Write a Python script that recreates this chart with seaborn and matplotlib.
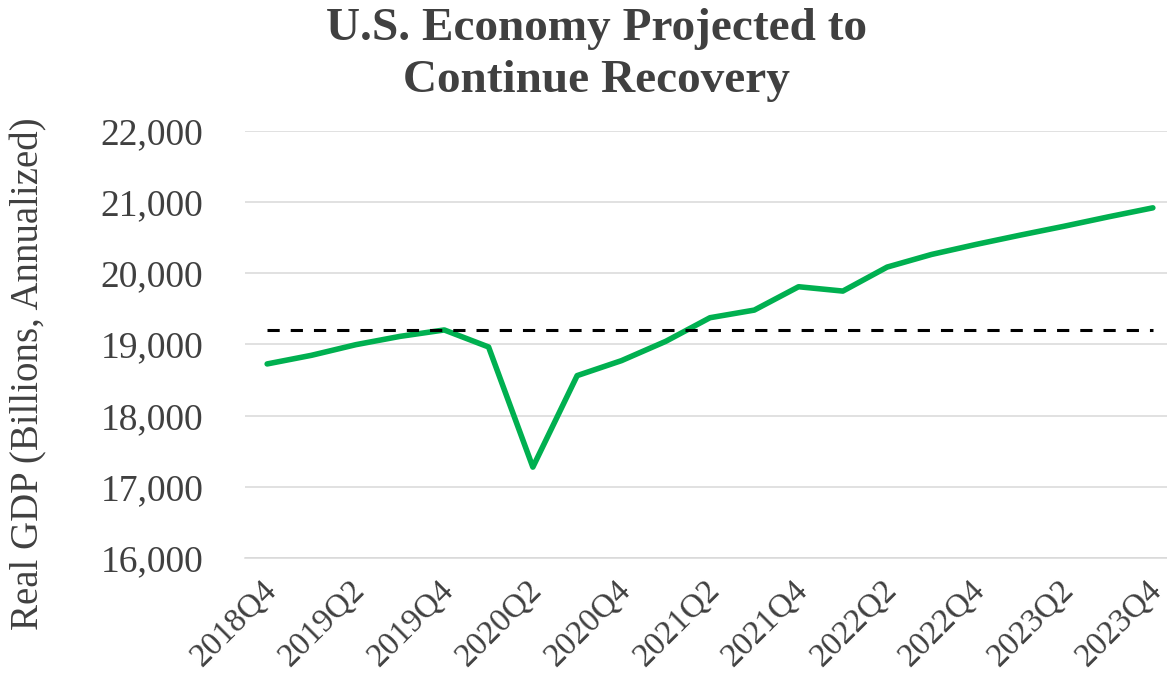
import numpy as np
import pandas as pd
import seaborn as sns
import matplotlib.pyplot as plt
import matplotlib.ticker as mticker
import matplotlib.transforms as mtransforms

quarters = ['2018Q4',
            '2019Q1', '2019Q2', '2019Q3', '2019Q4',
            '2020Q1', '2020Q2', '2020Q3', '2020Q4',
            '2021Q1', '2021Q2', '2021Q3', '2021Q4',
            '2022Q1', '2022Q2', '2022Q3', '2022Q4',
            '2023Q1', '2023Q2', '2023Q3', '2023Q4']
real_gdp = [18725, 18846, 18995, 19112, 19202,
            18963, 17276, 18561, 18771,
            19042, 19374, 19481, 19809,
            19748, 20085, 20262, 20402,
            20533, 20659, 20791, 20917]
# pre-pandemic peak (2019Q4) reference line
pre_covid_peak = [19202, 19202, 19202, 19202, 19202,
                  19202, 19202, 19202, 19202,
                  19202, 19202, 19202, 19202,
                  19202, 19202, 19202, 19202,
                  19202, 19202, 19202, 19202]
y_ticks = [16000, 17000, 18000, 19000, 20000, 21000, 22000]

sns.set_style("white")
plt.rcParams['font.family'] = ['Liberation Serif', 'DejaVu Serif']

text_col = '#404040'
grid_col = '#d9d9d9'

df = pd.DataFrame({'quarter': quarters, 'gdp': real_gdp, 'peak': pre_covid_peak})

fig = plt.figure(figsize=(11.67, 6.73), dpi=100)
ax = fig.add_axes([245 / 1167, 1 - 558 / 673, 930 / 1167, 427.3 / 673])

sns.lineplot(data=df, x='quarter', y='gdp', color='#00B050', linewidth=4,
             sort=False, ax=ax)
sns.lineplot(data=df, x='quarter', y='peak', color='black', linewidth=2.2,
             linestyle=(0, (4, 3.6)), sort=False, ax=ax)

ax.set_xlim(-0.5, len(quarters) - 0.5)
ax.set_ylim(16000, 22000)
ax.set_yticks(y_ticks)
ax.yaxis.set_major_formatter(mticker.StrMethodFormatter('{x:,.0f}'))

# labels on every other quarter, tick marks between categories
ax.set_xticks(range(0, len(quarters), 2))
ax.set_xticklabels(quarters[::2], rotation=45, ha='right', va='top',
                   rotation_mode='anchor')
ax.set_xticks(np.arange(-0.5, len(quarters), 1), minor=True)
ax.tick_params(axis='x', which='major', length=0, pad=12, labelsize=24,
               labelcolor=text_col)
ax.tick_params(axis='x', which='minor', length=7.2, width=1.1, color=grid_col)
ax.tick_params(axis='y', length=0, pad=30, labelsize=27, labelcolor=text_col)
shift = mtransforms.ScaledTranslation(-6 / 100, 0, fig.dpi_scale_trans)
for lbl in ax.get_xticklabels():
    lbl.set_transform(lbl.get_transform() + shift)

ax.grid(axis='y', color=grid_col, linewidth=1.1)
ax.grid(axis='x', visible=False)
ax.set_axisbelow(True)
for s in ['left', 'right', 'top']:
    ax.spines[s].set_visible(False)
ax.spines['bottom'].set_color(grid_col)
ax.spines['bottom'].set_linewidth(1.1)

ax.set_xlabel('')
ax.set_ylabel('Real GDP (Billions, Annualized)', fontsize=28, color=text_col)
ax.yaxis.set_label_coords(-0.212, 0.432)

fig.text(596.5 / 1167, 1 - 8 / 673, 'U.S. Economy Projected to\nContinue Recovery',
         ha='center', va='top', fontsize=34, fontweight='bold',
         color=text_col, linespacing=1.3)

fig.savefig('out.png', dpi=100)
